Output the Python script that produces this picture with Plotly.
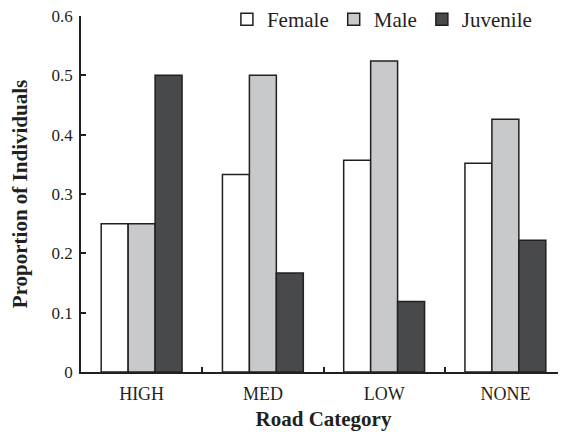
import plotly.graph_objects as go

categories = ["HIGH", "MED", "LOW", "NONE"]
female = [0.25, 0.333, 0.357, 0.352]
male = [0.25, 0.5, 0.524, 0.426]
juvenile = [0.5, 0.167, 0.119, 0.222]
y_ticks = [0, 0.1, 0.2, 0.3, 0.4, 0.5, 0.6]

FONT = "Liberation Serif, Times New Roman, serif"
LINE = "#231f20"

fig = go.Figure()
for name, vals, color in [("Female", female, "#ffffff"),
                          ("Male", male, "#c8c9cb"),
                          ("Juvenile", juvenile, "#48494b")]:
    fig.add_trace(go.Bar(x=categories, y=vals, name=name,
                         marker=dict(color=color, line=dict(color=LINE, width=1.5))))

# page body has an 8px margin, so the figure is shrunk by 8px on the leading sides
fig.update_layout(
    width=558, height=428,
    margin=dict(l=73, r=0, t=8, b=64, autoexpand=False),
    paper_bgcolor="white", plot_bgcolor="white",
    font=dict(family=FONT, size=17, color="#231f20"),
    barmode="group", bargap=0.333, bargroupgap=0,
    showlegend=True,
    legend=dict(orientation="h", x=0.94, xanchor="right", y=0.99, yanchor="middle",
                font=dict(size=21), bgcolor="rgba(0,0,0,0)",
                itemwidth=30, tracegroupgap=0),
)
fig.update_xaxes(
    showline=True, linecolor=LINE, linewidth=1.5,
    ticks="inside", ticklen=5, tickcolor=LINE, tickwidth=1.5,
    tickson="boundaries", range=[-0.5, 3.5], automargin=False,
    tickfont=dict(size=18),
    title=dict(text="<b>Road Category</b>", font=dict(size=21), standoff=8),
    showgrid=False, zeroline=False, ticklabelstandoff=5, ticklabeloverflow="allow",
)
fig.update_yaxes(
    showline=True, linecolor=LINE, linewidth=1.5,
    ticks="inside", ticklen=5, tickcolor=LINE, tickwidth=1.5,
    range=[0, 0.6], tickvals=y_ticks, ticktext=["0", "0.1", "0.2", "0.3", "0.4", "0.5", "0.6"],
    automargin=False, ticklabeloverflow="allow",
    title=dict(text="<b>Proportion of Individuals</b>", font=dict(size=21), standoff=18),
    showgrid=False, zeroline=False, ticklabelstandoff=3,
)
fig.write_html("out.html")
